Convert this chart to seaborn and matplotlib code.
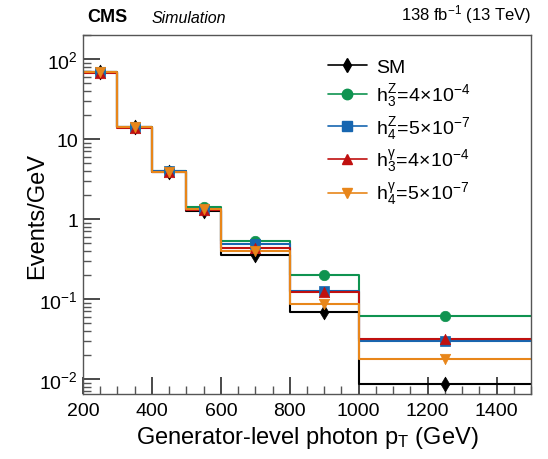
import numpy as np
import matplotlib
matplotlib.use("Agg")
import matplotlib.pyplot as plt
from matplotlib.lines import Line2D
from matplotlib.ticker import FixedLocator, FixedFormatter, MultipleLocator, LogLocator, NullFormatter
import seaborn as sns

# bin edges (GeV) and bin centres
edges = [200, 300, 400, 500, 600, 800, 1000, 1500]
centres = [250, 350, 450, 550, 700, 900, 1250]

# Events/GeV per bin
sm = [68, 14.0, 3.9, 1.25, 0.355, 0.069, 0.0087]
h3z = [69, 14.3, 4.0, 1.40, 0.53, 0.20, 0.061]
h4z = [68, 14.1, 3.95, 1.35, 0.49, 0.125, 0.030]
h3g = [67, 13.9, 3.85, 1.30, 0.44, 0.121, 0.0316]
h4g = [68, 14.0, 3.9, 1.32, 0.40, 0.086, 0.018]

labels = ["SM",
          r"$\mathregular{h_3^Z\!=\!4\!\times\!10^{-4}}$",
          r"$\mathregular{h_4^Z\!=\!5\!\times\!10^{-7}}$",
          r"$\mathregular{h_3^\gamma\!=\!4\!\times\!10^{-4}}$",
          r"$\mathregular{h_4^\gamma\!=\!5\!\times\!10^{-7}}$"]
colors = ["black", "#0f9350", "#1766b0", "#c0100f", "#e8861a"]
markers = ["d", "o", "s", "^", "v"]
msizes = [7.5, 7.5, 6.5, 7.5, 7.5]

sns.set_theme(style="ticks")
plt.rcParams['font.family'] = ['Liberation Sans', 'DejaVu Sans']
plt.rcParams['mathtext.fontset'] = 'custom'
plt.rcParams['mathtext.rm'] = 'Liberation Sans'
plt.rcParams['mathtext.it'] = 'Liberation Sans:italic'
plt.rcParams['mathtext.bf'] = 'Liberation Sans:bold'
plt.rcParams['text.color'] = 'black'
plt.rcParams['axes.labelcolor'] = 'black'
plt.rcParams['xtick.color'] = 'black'
plt.rcParams['ytick.color'] = 'black'

fig = plt.figure(figsize=(5.48, 4.60), dpi=100)
ax = fig.add_axes([0.1515, 0.1413, 0.8175, 0.7804])

series = [sm, h3z, h4z, h3g, h4g]
for vals, col in zip(series, colors):
    sns.lineplot(x=edges, y=list(vals) + [vals[-1]], drawstyle="steps-post",
                 color=col, lw=1.5, ax=ax, estimator=None, sort=False)
for vals, col, mk, ms in zip(series, colors, markers, msizes):
    sns.scatterplot(x=centres, y=vals, color=col, marker=mk, s=ms ** 2,
                    edgecolor=col, linewidth=0.5, ax=ax, zorder=5)

ax.set_yscale("log")
ax.set_xlim(200, 1500)
ax.set_ylim(0.0065, 200)

ax.xaxis.set_major_locator(MultipleLocator(200))
ax.xaxis.set_minor_locator(MultipleLocator(50))
ax.yaxis.set_major_locator(FixedLocator([0.01, 0.1, 1, 10, 100]))
ax.yaxis.set_major_formatter(FixedFormatter([r"$\mathregular{10^{-2}}$", r"$\mathregular{10^{-1}}$",
                                             "1", "10", r"$\mathregular{10^{2}}$"]))
ax.yaxis.set_minor_locator(LogLocator(base=10, subs=np.arange(2, 10)))
ax.yaxis.set_minor_formatter(NullFormatter())
ax.tick_params(which="both", direction="in", top=False, right=False,
               labelsize=14)
ax.tick_params(which="major", length=12, color="#333333")
ax.tick_params(which="minor", length=6, color="#555555")
ax.tick_params(axis="x", which="major", pad=6)
for sp in ax.spines.values():
    sp.set_color("#555555")
    sp.set_linewidth(1.0)

ax.set_xlabel(r"Generator-level photon p$_\mathregular{T}$ (GeV)", fontsize=17, labelpad=3)
ax.set_ylabel("Events/GeV", fontsize=17)
ax.yaxis.set_label_coords(-0.078, 0.5)

handles = [Line2D([], [], color=c, marker=m, markersize=s, lw=1.2)
           for c, m, s in zip(colors, markers, msizes)]
ax.legend(handles, labels, loc="upper right", bbox_to_anchor=(0.905, 0.985),
          frameon=False, fontsize=14, handlelength=2.0, labelspacing=0.3,
          handletextpad=0.5)

fig.text(0.16, 0.943, "CMS", fontsize=13, fontweight="bold", ha="left", va="bottom")
fig.text(0.276, 0.943, "Simulation", fontsize=11.5, style="italic", ha="left", va="bottom")
fig.text(0.969, 0.943, r"138 fb$^{\mathregular{-1}}$ (13 TeV)", fontsize=12, ha="right", va="bottom")

fig.savefig("out.png", dpi=100)
